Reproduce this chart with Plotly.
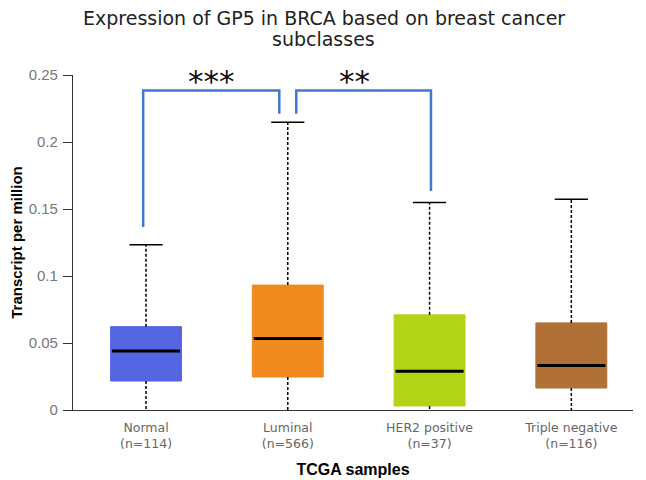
import plotly.graph_objects as go

categories = ["Normal", "Luminal", "HER2 positive", "Triple negative"]
sample_n = [114, 566, 37, 116]
q1 = [0.0216, 0.0246, 0.0030, 0.0164]
median = [0.0440, 0.0533, 0.0290, 0.0333]
q3 = [0.0622, 0.0932, 0.0710, 0.0650]
lower_whisker = [0.0, 0.0, 0.0, 0.0]
upper_whisker = [0.1233, 0.2147, 0.1548, 0.1572]
colors = ["#5566E2", "#F08A1F", "#B2D416", "#B07036"]

# significance comparisons
sig_pairs = [(0, 1), (1, 2)]
sig_start = [0.1365, 0.2210]
sig_end = [0.2210, 0.1635]
sig_top = 0.2385
sig_labels = ["***", "**"]

y_ticks = [0, 0.05, 0.1, 0.15, 0.2, 0.25]
y_ticktext = ["0", "0.05", "0.1", "0.15", "0.2", "0.25"]

title_lines = ["Expression of GP5 in BRCA based on breast cancer", "subclasses"]

fig = go.Figure()
xs = list(range(len(categories)))
box_half = 0.25
cap_half = 0.117
med_half = 0.24

for i, cat in enumerate(categories):
    fig.add_trace(go.Box(
        x=[xs[i]], q1=[q1[i]], median=[median[i]], q3=[q3[i]],
        lowerfence=[q1[i]], upperfence=[q3[i]],
        width=2 * box_half, fillcolor=colors[i],
        line=dict(color=colors[i], width=1), whiskerwidth=0,
        boxpoints=False, name=cat, showlegend=False, opacity=1))
    fig.add_trace(go.Scatter(
        x=[xs[i], xs[i], None, xs[i], xs[i]],
        y=[q3[i], upper_whisker[i], None, q1[i], lower_whisker[i]],
        mode="lines", line=dict(color="black", width=1.5, dash="3px,2px"),
        showlegend=False, hoverinfo="skip"))
    fig.add_trace(go.Scatter(
        x=[xs[i] - cap_half, xs[i] + cap_half],
        y=[upper_whisker[i], upper_whisker[i]],
        mode="lines", line=dict(color="black", width=1.5),
        showlegend=False, hoverinfo="skip"))
    fig.add_trace(go.Scatter(
        x=[xs[i] - med_half, xs[i] + med_half],
        y=[median[i], median[i]],
        mode="lines", line=dict(color="black", width=3),
        showlegend=False, hoverinfo="skip"))

offs = [(-0.02, -0.06), (0.06, 0.01)]
label_shift = [0, -9]
for k, (a, b) in enumerate(sig_pairs):
    xa = a + offs[k][0]
    xb = b + offs[k][1]
    fig.add_trace(go.Scatter(
        x=[xa, xa, xb, xb], y=[sig_start[k], sig_top, sig_top, sig_end[k]],
        mode="lines", line=dict(color="#4677CF", width=2.5),
        showlegend=False, hoverinfo="skip"))
    fig.add_annotation(x=(xa + xb) / 2, y=sig_top, text=sig_labels[k],
                       showarrow=False, yanchor="bottom", yshift=-11,
                       xshift=label_shift[k],
                       font=dict(family="DejaVu Sans", size=31, color="#111"))

# title as two centred lines
fig.add_annotation(xref="paper", yref="paper", x=0.448, y=1.170, text=title_lines[0],
                   showarrow=False, xanchor="center", yanchor="middle",
                   font=dict(family="DejaVu Sans", size=19, color="#222"))
fig.add_annotation(xref="paper", yref="paper", x=0.448, y=1.107, text=title_lines[1],
                   showarrow=False, xanchor="center", yanchor="middle",
                   font=dict(family="DejaVu Sans", size=19, color="#222"))

ticktext = [f"{c}<br>(n={n})" for c, n in zip(categories, sample_n)]

fig.update_layout(
    width=638, height=472,
    margin=dict(l=65, r=13, t=67, b=70, autoexpand=False),
    paper_bgcolor="white", plot_bgcolor="white",
    xaxis=dict(range=[-0.515, 3.435], tickvals=xs, ticktext=ticktext,
               automargin=False,
               showline=True, linecolor="#333", linewidth=1.2,
               showgrid=False, zeroline=False, ticks="", ticklabelstandoff=6,
               tickfont=dict(family="DejaVu Sans", size=12.5, color="#666"),
               title=dict(text="TCGA samples", standoff=13,
                          font=dict(family="Liberation Sans", size=16, color="black", weight="bold"))),
    yaxis=dict(range=[0, 0.25], tickvals=y_ticks, ticktext=y_ticktext,
               automargin=False,
               showline=True, linecolor="#333", linewidth=1.2,
               showgrid=False, zeroline=False, ticks="outside", ticklen=9,
               tickcolor="#333", ticklabelstandoff=2,
               tickfont=dict(family="Liberation Sans", size=15, color="#777"),
               title=dict(text="Transcript per million", standoff=8,
                          font=dict(family="Liberation Sans", size=15, color="black", weight="bold"))),
)

fig.write_html("out.html")
